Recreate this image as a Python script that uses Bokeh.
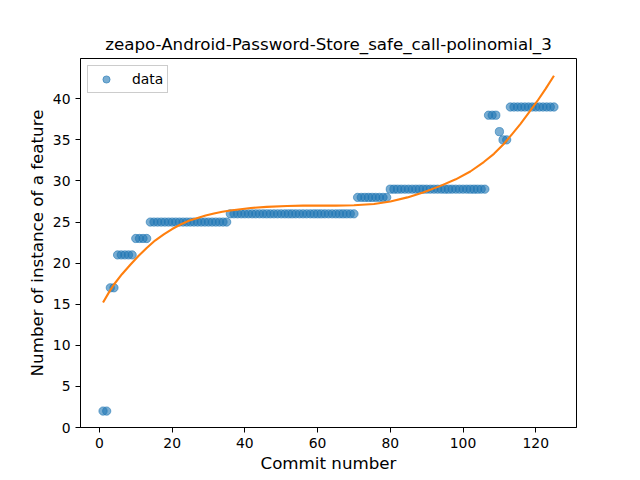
from bokeh.plotting import figure
from bokeh.models import Range1d, FixedTicker, Legend, LegendItem, ColumnDataSource
from bokeh.embed import file_html
from bokeh.resources import INLINE

# Data
commits = [
    1, 2, 3, 4, 5, 6, 7, 8, 9, 10, 11, 12, 13, 14, 15, 16, 17, 18, 19, 20,
    21, 22, 23, 24, 25, 26, 27, 28, 29, 30, 31, 32, 33, 34, 35, 36, 37, 38, 39, 40,
    41, 42, 43, 44, 45, 46, 47, 48, 49, 50, 51, 52, 53, 54, 55, 56, 57, 58, 59, 60,
    61, 62, 63, 64, 65, 66, 67, 68, 69, 70, 71, 72, 73, 74, 75, 76, 77, 78, 79, 80,
    81, 82, 83, 84, 85, 86, 87, 88, 89, 90, 91, 92, 93, 94, 95, 96, 97, 98, 99, 100,
    101, 102, 103, 104, 105, 106, 107, 108, 109, 110, 111, 112, 113, 114, 115, 116, 117, 118, 119, 120,
    121, 122, 123, 124, 125,
]
features = [
    2, 2, 17, 17, 21, 21, 21, 21, 21, 23, 23, 23, 23, 25, 25, 25, 25, 25, 25, 25,
    25, 25, 25, 25, 25, 25, 25, 25, 25, 25, 25, 25, 25, 25, 25, 26, 26, 26, 26, 26,
    26, 26, 26, 26, 26, 26, 26, 26, 26, 26, 26, 26, 26, 26, 26, 26, 26, 26, 26, 26,
    26, 26, 26, 26, 26, 26, 26, 26, 26, 26, 28, 28, 28, 28, 28, 28, 28, 28, 28, 29,
    29, 29, 29, 29, 29, 29, 29, 29, 29, 29, 29, 29, 29, 29, 29, 29, 29, 29, 29, 29,
    29, 29, 29, 29, 29, 29, 38, 38, 38, 36, 35, 35, 39, 39, 39, 39, 39, 39, 39, 39,
    39, 39, 39, 39, 39,
]
# Polynomial (degree 3) trend line
fit_x = [1, 2.5, 4, 6.2, 8.5, 10.8, 13, 15.3, 17.7, 20, 22.3, 24.6, 27, 29.2, 31.5, 33.8,
         36, 38.8, 41.6, 46, 51.6, 56, 61, 65, 70, 75.5, 80, 84.7, 89, 93.8, 98, 102,
         105.7, 108.5, 111.2, 113.5, 115.8, 118.1, 120.4, 122.7, 125]
fit_y = [15.2, 16.35, 17.4, 18.65, 19.8, 20.9, 21.85, 22.75, 23.5, 24.15, 24.7, 25.15,
         25.5, 25.8, 26.05, 26.25, 26.4, 26.55, 26.7, 26.85, 26.95, 27.0, 27.0, 27.0,
         27.05, 27.2, 27.5, 28.0, 28.6, 29.4, 30.2, 31.15, 32.3, 33.3, 34.5, 35.7, 36.95,
         38.3, 39.7, 41.2, 42.8]
x_ticks = [0, 20, 40, 60, 80, 100, 120]
y_ticks = [0, 5, 10, 15, 20, 25, 30, 35, 40]

title_text = "zeapo-Android-Password-Store_safe_call-polinomial_3"
FONT = "DejaVu Sans"

p = figure(width=640, height=480, output_backend="svg", toolbar_location=None,
           x_range=Range1d(-5.2, 131.2), y_range=Range1d(0, 44.9),
           min_border_left=80, min_border_right=64, min_border_top=58, min_border_bottom=53,
           title=title_text)

p.background_fill_color = "white"
p.border_fill_color = "white"
p.outline_line_color = "black"
p.outline_line_width = 1
p.grid.visible = False

p.title.text_font = FONT
p.title.text_font_size = "16.7px"
p.title.text_font_style = "normal"
p.title.align = "center"
p.title.text_color = "black"

for ax in (p.xaxis[0], p.yaxis[0]):
    ax.axis_label_text_font = FONT
    ax.axis_label_text_font_size = "16.7px"
    ax.axis_label_text_font_style = "normal"
    ax.axis_label_text_color = "black"
    ax.major_label_text_font = FONT
    ax.major_label_text_font_size = "13.9px"
    ax.major_label_text_color = "black"
    ax.minor_tick_line_color = None
    ax.major_tick_in = 0
    ax.major_tick_out = 5
    ax.major_tick_line_color = "black"
    ax.axis_line_color = "black"
    ax.major_label_standoff = 5

p.xaxis[0].ticker = FixedTicker(ticks=x_ticks)
p.yaxis[0].ticker = FixedTicker(ticks=y_ticks)
p.xaxis[0].axis_label = "Commit number"
p.yaxis[0].axis_label = "Number of instance of a feature"
p.xaxis[0].axis_label_standoff = 2
p.yaxis[0].axis_label_standoff = 3

src = ColumnDataSource(dict(x=commits, y=features))
pts = p.scatter("x", "y", source=src, size=8.3, marker="circle",
                fill_color="#1f77b4", fill_alpha=0.6,
                line_color="#1f77b4", line_alpha=0.6, line_width=1)

fit_src = ColumnDataSource(dict(x=fit_x, y=fit_y))
p.line("x", "y", source=fit_src, line_color="#ff7f0e", line_width=2.1,
       line_join="round")

legend = Legend(items=[LegendItem(label="data", renderers=[pts])],
                location="top_left")
legend.label_text_font = FONT
legend.label_text_font_size = "13.9px"
legend.label_text_color = "black"
legend.border_line_color = "#cccccc"
legend.border_line_alpha = 1
legend.background_fill_alpha = 0.8
legend.margin = 7
legend.padding = 4
legend.glyph_width = 28
legend.glyph_height = 18
legend.label_standoff = 12
legend.label_height = 18
p.add_layout(legend)

open("out.html", "w").write(file_html(p, INLINE))
